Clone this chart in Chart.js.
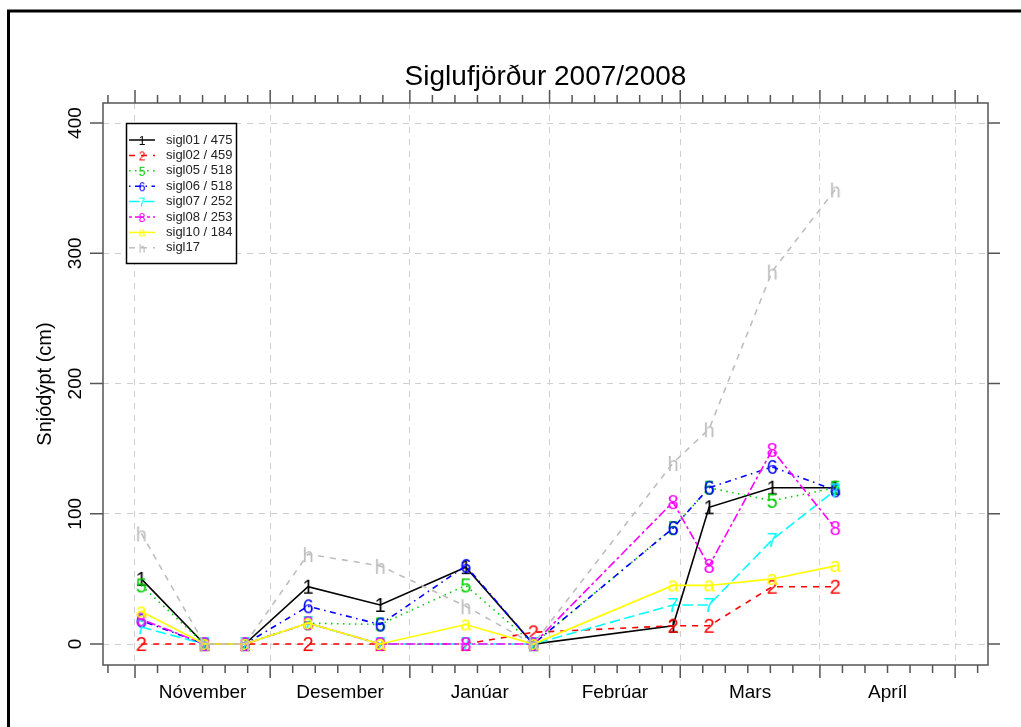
<!DOCTYPE html>
<html>
<head>
<meta charset="utf-8">
<title>Siglufjörður 2007/2008</title>
<script src="https://cdn.jsdelivr.net/npm/chart.js@4.4.0/dist/chart.umd.min.js"></script>
<style>
  html, body { margin: 0; padding: 0; background: #fff; }
  #wrap { width: 1021px; height: 727px; }
</style>
</head>
<body>
<div id="wrap"><canvas id="graph" width="1021" height="727"></canvas></div>
<script>
// ------------ data -----------------------
// measuring days, counted from 1 Nov 2007
var days = [1.4, 15.4, 24.4, 38.4, 54.4, 73.4, 88.4, 119.4, 127.4, 141.4, 155.4];

// snow depth (cm)
var sigl01 = [50, 0, 0, 44, 30, 59, 0, 14, 105, 120, 120];
var sigl02 = [0, 0, 0, 0, 0, 0, 9, 14, 14, 44, 44];
var sigl05 = [45, 0, 0, 16, 15, 45, 0, 89, 120, 110, 120];
var sigl06 = [18, 0, 0, 29, 15, 60, 0, 89, 120, 136, 118];
var sigl07 = [13, 0, 0, 16, 0, 0, 0, 30, 30, 80, 118];
var sigl08 = [19, 0, 0, 16, 0, 0, 0, 109, 60, 149, 89];
var sigl10 = [25, 0, 0, 16, 0, 15, 0, 45, 45, 50, 60];
var sigl17 = [85, 0, 0, 69, 60, 29, 0, 139, 165, 286, 349];

var seriesNames = ["sigl01 / 475", "sigl02 / 459", "sigl05 / 518", "sigl06 / 518",
  "sigl07 / 252", "sigl08 / 253", "sigl10 / 184", "sigl17"];
var seriesChars = ["1", "2", "5", "6", "7", "8", "a", "h"];

// month starts (1 Nov .. 1 May) and labels
var monthStarts = [0, 30, 61, 92, 121, 152, 182];
var monthNames = ["Nóvember", "Desember", "Janúar", "Febrúar", "Mars", "Apríl"];
var yTicks = [0, 100, 200, 300, 400];

// ------------ styles -----------------------
var colors = ["#000000", "#FF0000", "#00CD00", "#0000FF", "#00FFFF", "#FF00FF", "#FFFF00", "#BEBEBE"];
var dashes = [[], [6, 6], [1.5, 4.5], [1.5, 4.5, 6, 4.5], [10.5, 4.5], [3, 3, 9, 3], [], [6, 6]];
var FONT = "'Liberation Sans', Arial, Helvetica, sans-serif";

function makeGlyph(ch, color, size) {
  var c = document.createElement("canvas");
  c.width = 32;
  c.height = 32;
  var g = c.getContext("2d");
  g.font = size + "px " + FONT;
  g.fillStyle = color;
  g.textAlign = "center";
  g.textBaseline = "alphabetic";
  var m = g.measureText(ch);
  g.fillText(ch, 16, 16 + (m.actualBoundingBoxAscent - m.actualBoundingBoxDescent) / 2);
  return c;
}

// minor ticks every 5 days (1, 6, 11, 16, 21, 26 of each month)
var minorTicks = [];
[-31].concat(monthStarts).forEach(function (m) {
  for (var d = 0; d <= 25; d += 5) minorTicks.push(m + d);
});

// ------------ datasets -----------------------
var allSeries = [sigl01, sigl02, sigl05, sigl06, sigl07, sigl08, sigl10, sigl17];
var datasets = [];
for (var i = 0; i < allSeries.length; i++) {
  datasets.push({
    label: seriesNames[i],
    data: allSeries[i].map(function (v, k) { return { x: days[k], y: v }; }),
    borderColor: colors[i],
    backgroundColor: colors[i],
    borderWidth: 1.6,
    borderDash: dashes[i],
    pointStyle: makeGlyph(seriesChars[i], colors[i], 20),
    pointRadius: 3,
    tension: 0,
    fill: false,
    order: 10 - i
  });
}

// ------------ frame, axes, labels, legend -----------------------
var framePlugin = {
  id: "frame",
  afterDraw: function (chart) {
    var ctx = chart.ctx;
    var a = chart.chartArea;
    var xs = chart.scales.x;
    var ys = chart.scales.y;
    ctx.save();

    // outer frame
    ctx.strokeStyle = "#000";
    ctx.lineWidth = 3;
    ctx.strokeRect(8.5, 11, 1100, 1000);

    // panel box
    ctx.strokeStyle = "#555";
    ctx.lineWidth = 1.5;
    ctx.strokeRect(a.left, a.top, a.right - a.left, a.bottom - a.top);

    // x ticks top and bottom
    ctx.beginPath();
    minorTicks.forEach(function (d) {
      if (d < xs.min || d > xs.max) return;
      var px = xs.getPixelForValue(d);
      var len = monthStarts.indexOf(d) >= 0 ? 13 : 8;
      ctx.moveTo(px, a.bottom);
      ctx.lineTo(px, a.bottom + len);
      ctx.moveTo(px, a.top);
      ctx.lineTo(px, a.top - len);
    });
    // y ticks left and right
    yTicks.forEach(function (v) {
      var py = ys.getPixelForValue(v);
      ctx.moveTo(a.left, py);
      ctx.lineTo(a.left - 13, py);
      ctx.moveTo(a.right, py);
      ctx.lineTo(a.right + 12, py);
    });
    ctx.stroke();

    // month labels
    ctx.fillStyle = "#000";
    ctx.font = "19px " + FONT;
    ctx.textAlign = "center";
    ctx.textBaseline = "middle";
    for (var m = 0; m < monthNames.length; m++) {
      var mid = (monthStarts[m] + monthStarts[m + 1]) / 2;
      ctx.fillText(monthNames[m], xs.getPixelForValue(mid), 693);
    }

    // y tick labels (rotated)
    yTicks.forEach(function (v) {
      ctx.save();
      ctx.translate(76, ys.getPixelForValue(v));
      ctx.rotate(-Math.PI / 2);
      ctx.fillText(String(v), 0, 0);
      ctx.restore();
    });

    // y title
    ctx.save();
    ctx.font = "20px " + FONT;
    ctx.translate(45, (a.top + a.bottom) / 2);
    ctx.rotate(-Math.PI / 2);
    ctx.fillText("Snjódýpt (cm)", 0, 0);
    ctx.restore();

    // main title
    ctx.font = "28px " + FONT;
    ctx.fillText("Siglufjörður 2007/2008", (a.left + a.right) / 2, 77);

    // legend
    ctx.fillStyle = "#fff";
    ctx.fillRect(126.5, 123.5, 110, 140);
    ctx.strokeStyle = "#000";
    ctx.lineWidth = 1.5;
    ctx.strokeRect(126.5, 123.5, 110, 140);
    for (var k = 0; k < seriesNames.length; k++) {
      var ly = 140 + k * 15.4;
      ctx.strokeStyle = colors[k];
      ctx.setLineDash(dashes[k]);
      ctx.beginPath();
      ctx.moveTo(129, ly);
      ctx.lineTo(155, ly);
      ctx.stroke();
      ctx.setLineDash([]);
      ctx.drawImage(makeGlyph(seriesChars[k], colors[k], 12), 142 - 16, ly - 16);
      ctx.fillStyle = "#222";
      ctx.font = "13px " + FONT;
      ctx.textAlign = "left";
      ctx.fillText(seriesNames[k], 166, ly);
    }
    ctx.restore();
  }
};

// ------------------------- graph ------------------------------------
var ctx = document.getElementById("graph");
var myChart = new Chart(ctx, {
  type: "line",
  data: { datasets: datasets },
  options: {
    responsive: false,
    animation: false,
    events: [],
    layout: { padding: { left: 103, right: 33, top: 103, bottom: 62 } },
    plugins: { legend: { display: false }, title: { display: false }, tooltip: { enabled: false } },
    scales: {
      x: {
        type: "linear",
        min: -7.1,
        max: 189.3,
        afterBuildTicks: function (axis) {
          axis.ticks = monthStarts.map(function (v) { return { value: v }; });
        },
        ticks: { display: false },
        grid: { color: "#d0d0d0", lineWidth: 1, drawTicks: false },
        border: { display: false, dash: [6, 6] }
      },
      y: {
        type: "linear",
        min: -16.1,
        max: 415.4,
        afterBuildTicks: function (axis) {
          axis.ticks = yTicks.map(function (v) { return { value: v }; });
        },
        ticks: { display: false },
        grid: { color: "#d0d0d0", lineWidth: 1, drawTicks: false },
        border: { display: false, dash: [6, 6] }
      }
    }
  },
  plugins: [framePlugin]
});
</script>
</body>
</html>
